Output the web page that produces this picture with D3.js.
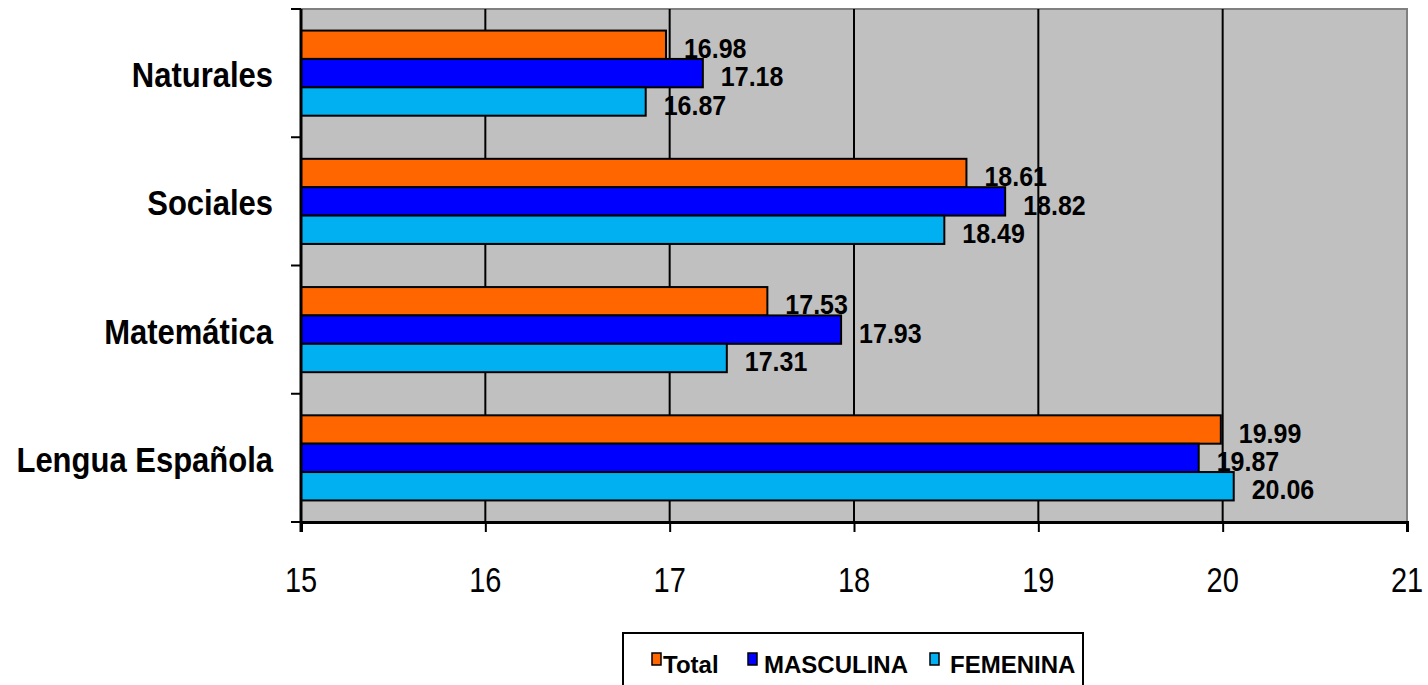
<!DOCTYPE html>
<html><head><meta charset="utf-8">
<script src="https://cdn.jsdelivr.net/npm/d3@7"></script>
<style>
html,body{margin:0;padding:0;background:#fff;}
text{font-family:"Liberation Sans",Arial,sans-serif;}
</style></head>
<body><svg id="chart" width="1428" height="685"></svg>
<script>
const categories = ["Naturales", "Sociales", "Matemática", "Lengua Española"];
const seriesNames = ["Total", "MASCULINA", "FEMENINA"];
const totalValues = [16.98, 18.61, 17.53, 19.99];
const masculinaValues = [17.18, 18.82, 17.93, 19.87];
const femeninaValues = [16.87, 18.49, 17.31, 20.06];
const xTicks = [15, 16, 17, 18, 19, 20, 21];
const colors = ["#FF6600", "#0000FF", "#00B0F0"];

const seriesValues = [totalValues, masculinaValues, femeninaValues];
const rows = [];
categories.forEach((c, i) => seriesNames.forEach((s, j) => rows.push({cat: c, series: s, value: seriesValues[j][i], color: colors[j]})));

const svg = d3.select("#chart");
const L = 301, R = 1407, T = 9, B = 522;
const x = d3.scaleLinear().domain([15, 21]).range([L, R]);
const y = d3.scaleBand().domain(categories).range([T, B]).paddingInner(0).paddingOuter(0);
const ys = d3.scaleBand().domain(seriesNames).range([0, y.bandwidth()]).paddingInner(0).paddingOuter(0.76);

// plot background
svg.append("rect").attr("x", L).attr("y", T).attr("width", R - L).attr("height", B - T)
  .attr("fill", "#C0C0C0").attr("stroke", "#808080").attr("stroke-width", 2);

// gridlines
svg.append("g").selectAll("line").data(xTicks.slice(1, -1)).join("line")
  .attr("x1", d => x(d)).attr("x2", d => x(d)).attr("y1", T).attr("y2", B)
  .attr("stroke", "#000").attr("stroke-width", 2);

// bars
svg.append("g").selectAll("rect").data(rows).join("rect")
  .attr("x", x(15))
  .attr("y", d => y(d.cat) + ys(d.series))
  .attr("width", d => x(d.value) - x(15))
  .attr("height", ys.bandwidth())
  .attr("fill", d => d.color).attr("stroke", "#000").attr("stroke-width", 2);

// value labels
svg.append("g").selectAll("text").data(rows).join("text")
  .attr("transform", d => `translate(${x(d.value) + 18},${y(d.cat) + ys(d.series) + ys.bandwidth() - 1}) scale(1,1.13)`)
  .attr("font-size", 25).attr("font-weight", "bold").attr("fill", "#000")
  .text(d => d.value.toFixed(2));

// bottom axis
const xAxis = svg.append("g").attr("transform", `translate(0,${B})`)
  .call(d3.axisBottom(x).tickValues(xTicks).tickSize(10).tickFormat(""));
xAxis.select(".domain").attr("stroke", "#000").attr("stroke-width", 3);
xAxis.selectAll(".tick line").attr("stroke", "#000").attr("stroke-width", 2);
svg.append("g").selectAll("text").data(xTicks).join("text")
  .attr("transform", d => `translate(${x(d)},592) scale(1,1.22)`)
  .attr("text-anchor", "middle").attr("font-size", 29).attr("fill", "#000")
  .text(d => d);

// left axis
const yBounds = categories.map(c => y(c)).concat([B]);
svg.append("line").attr("x1", L).attr("x2", L).attr("y1", T).attr("y2", B + 10)
  .attr("stroke", "#000").attr("stroke-width", 3);
svg.append("g").selectAll("line").data(yBounds).join("line")
  .attr("x1", L - 10).attr("x2", L).attr("y1", d => d).attr("y2", d => d)
  .attr("stroke", "#000").attr("stroke-width", 2);
svg.append("g").selectAll("text").data(categories).join("text")
  .attr("transform", d => `translate(273,${y(d) + y.bandwidth() / 2 + 14}) scale(1,1.13)`)
  .attr("text-anchor", "end").attr("font-size", 31).attr("font-weight", "bold").attr("fill", "#000")
  .text(d => d);

// legend
const lg = svg.append("g");
lg.append("rect").attr("x", 623).attr("y", 633).attr("width", 460).attr("height", 70)
  .attr("fill", "#fff").attr("stroke", "#000").attr("stroke-width", 2);
const legendX = [652, 748, 930];
const legendTextX = [663, 764, 950];
seriesNames.forEach((s, i) => {
  lg.append("rect").attr("x", legendX[i]).attr("y", 653).attr("width", 9).attr("height", 12)
    .attr("fill", colors[i]).attr("stroke", "#000").attr("stroke-width", 1.5);
  lg.append("text").attr("x", legendTextX[i]).attr("y", 673)
    .attr("font-size", 24).attr("font-weight", "bold").attr("fill", "#000").text(s);
});
</script></body></html>
